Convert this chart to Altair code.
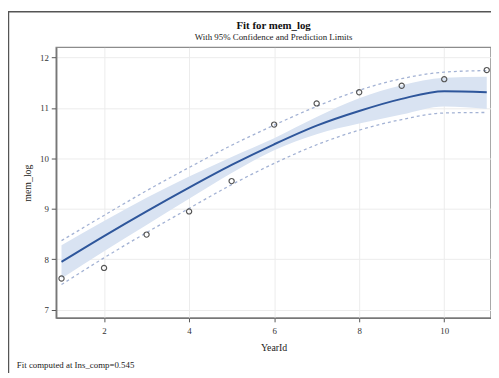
import altair as alt
import pandas as pd

# ---- data ----
year = [1, 2, 3, 4, 5, 6, 7, 8, 9, 10, 11]
mem_log = [7.62, 7.83, 8.49, 8.95, 9.55, 10.67, 11.09, 11.31, 11.44, 11.57, 11.75]
fit = [7.95, 8.46, 8.95, 9.42, 9.87, 10.28, 10.65, 10.94, 11.18, 11.33, 11.31]
lclm = [7.62, 8.16, 8.68, 9.20, 9.71, 10.16, 10.48, 10.69, 10.87, 11.03, 10.98]
uclm = [8.28, 8.76, 9.22, 9.64, 10.03, 10.40, 10.82, 11.19, 11.45, 11.60, 11.62]
lcl = [7.50, 8.03, 8.53, 9.01, 9.48, 9.90, 10.27, 10.56, 10.77, 10.90, 10.91]
ucl = [8.37, 8.87, 9.36, 9.82, 10.26, 10.66, 11.03, 11.35, 11.58, 11.71, 11.74]
x_ticks = [2, 4, 6, 8, 10]
y_ticks = [7, 8, 9, 10, 11, 12]
footnote = "Fit computed at Ins_comp=0.545"

df = pd.DataFrame(dict(YearId=year, mem_log=mem_log, fit=fit,
                       lclm=lclm, uclm=uclm, lcl=lcl, ucl=ucl))
one = pd.DataFrame({"a": [0]})

SERIF = "Liberation Serif"
xs = alt.Scale(domain=[0.875, 11.1], nice=False, zero=False)
ys = alt.Scale(domain=[6.84, 12.2], nice=False, zero=False)
xax = alt.Axis(values=x_ticks, title="YearId", tickSize=4, labelPadding=5,
               titlePadding=7, format="d")
yax = alt.Axis(values=y_ticks, title="mem_log", tickSize=5, labelPadding=3,
               titlePadding=7, format="d")

X = alt.X("YearId:Q", scale=xs, axis=xax)
base = alt.Chart(df)

PL_COLOR = "#A3B2D4"
band = base.mark_area(color="#D9E3F2", interpolate="monotone").encode(
    x=X, y=alt.Y("lclm:Q", scale=ys, axis=yax), y2="uclm:Q")
upl = base.mark_line(color=PL_COLOR, strokeDash=[3, 3], strokeWidth=1.3,
                     interpolate="monotone").encode(
    x=X, y=alt.Y("ucl:Q", scale=ys, axis=yax))
lpl = base.mark_line(color=PL_COLOR, strokeDash=[3, 3], strokeWidth=1.3,
                     interpolate="monotone").encode(
    x=X, y=alt.Y("lcl:Q", scale=ys, axis=yax))
fitl = base.mark_line(color="#2E569B", strokeWidth=2,
                      interpolate="monotone").encode(
    x=X, y=alt.Y("fit:Q", scale=ys, axis=yax))
pts = base.mark_point(shape="circle", filled=False, color="#555555",
                      size=28, strokeWidth=1.2, opacity=1).encode(
    x=X, y=alt.Y("mem_log:Q", scale=ys, axis=yax))

frame_left = alt.Chart(one).mark_rule(color="#555555", strokeWidth=1.5).encode(
    x=alt.value(-48.5), y=alt.value(-37), y2=alt.value(400))
frame_top = alt.Chart(one).mark_rule(color="#555555", strokeWidth=1.5).encode(
    x=alt.value(-49), x2=alt.value(460), y=alt.value(-36.25))
note = alt.Chart(one).mark_text(align="left", baseline="middle", font=SERIF,
                                fontSize=9, color="#222222").encode(
    x=alt.value(-40), y=alt.value(323), text=alt.value(footnote))

chart = alt.layer(band, upl, lpl, fitl, pts, frame_left, frame_top, note).properties(
    width=442, height=275,
    autosize="none",
    padding={"left": 49, "top": 37, "right": 0, "bottom": 53},
    background="white",
    title=alt.TitleParams(
        text="Fit for mem_log",
        subtitle="With 95% Confidence and Prediction Limits",
        font=SERIF, fontSize=11, fontWeight="bold", color="#111111",
        subtitleFont=SERIF, subtitleFontSize=9, subtitleColor="#222222",
        anchor="middle", frame="group", offset=6, subtitlePadding=2, dy=38),
).configure_view(stroke="#8c8c8c", strokeWidth=1.5).configure_axis(
    domainColor="#777777", domainWidth=1.5, tickColor="#555555",
    gridColor="#ececec", labelFont=SERIF, labelFontSize=9,
    titleFont=SERIF, titleFontSize=10, titleFontWeight="normal",
    labelColor="#333333", titleColor="#222222")

chart.save("out.html", embed_options={"renderer": "svg", "actions": False})
